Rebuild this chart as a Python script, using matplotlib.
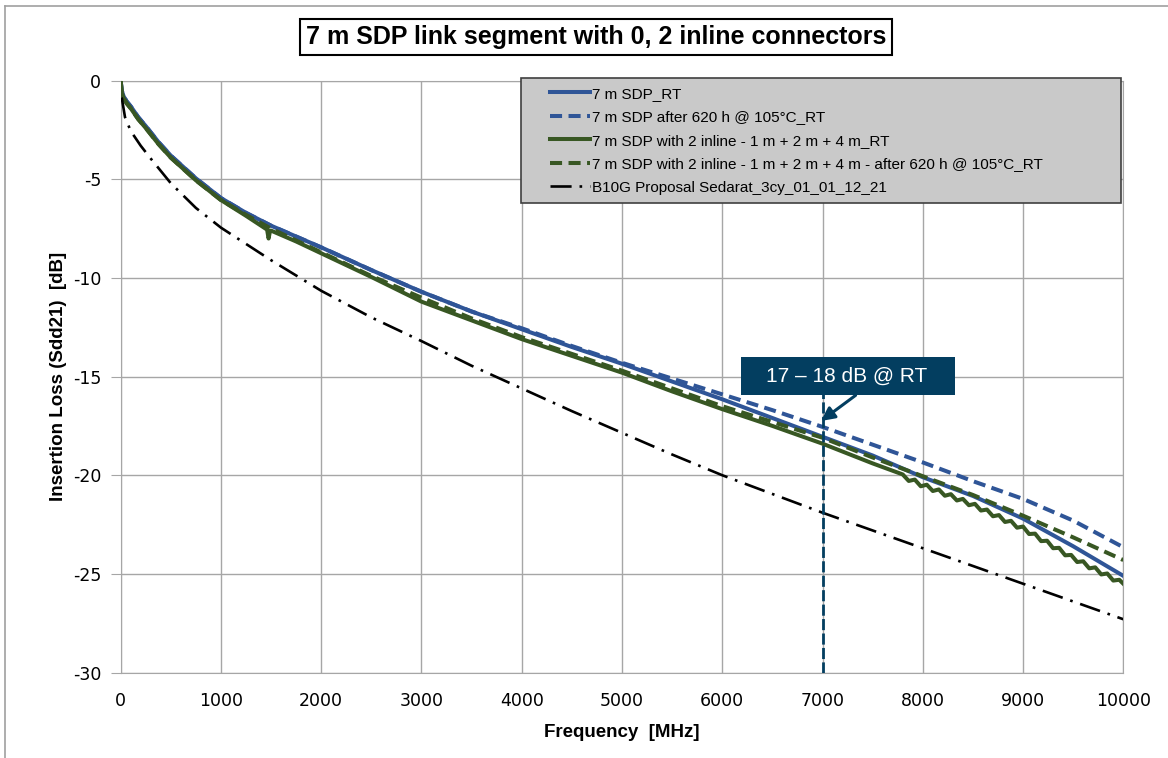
import matplotlib
matplotlib.use("Agg")
import matplotlib.pyplot as plt
from matplotlib.patches import Rectangle
from matplotlib.lines import Line2D
from matplotlib.legend_handler import HandlerLine2D

plt.rcParams["axes.unicode_minus"] = False

# --- data ---
freq = [0, 10, 30, 60, 100, 175, 250, 375, 500, 750, 1000, 1250, 1500, 1750, 2000,
        2500, 3000, 3500, 4000, 4500, 5000, 5500, 6000, 6500, 7000, 7500, 8000,
        8500, 9000, 9500, 10000]

sdp_rt = [0, -0.5, -0.8, -1.05, -1.3, -1.85, -2.3, -3.1, -3.8, -4.95, -5.95, -6.7,
          -7.35, -7.9, -8.45, -9.6, -10.7, -11.7, -12.6, -13.5, -14.35, -15.25,
          -16.15, -17.1, -18.05, -19.0, -20.1, -21.05, -22.2, -23.6, -25.1]

sdp_aged = [0, -0.5, -0.8, -1.05, -1.3, -1.85, -2.3, -3.1, -3.8, -4.95, -5.95, -6.7,
            -7.35, -7.9, -8.45, -9.6, -10.7, -11.7, -12.55, -13.45, -14.3, -15.1,
            -15.9, -16.7, -17.55, -18.45, -19.35, -20.3, -21.2, -22.3, -23.65]

inline_freq = [0, 10, 30, 60, 100, 175, 250, 375, 500, 750, 1000, 1250, 1460, 1475,
               1490, 1500, 1750, 2000, 2500, 3000, 3500, 4000, 4500, 5000, 5500,
               6000, 6500, 7000, 7500,
               7800, 7860, 7920, 7980, 8040, 8100, 8160, 8220, 8280, 8340, 8400,
               8460, 8520, 8580, 8640, 8700, 8760, 8820, 8880, 8940, 9000, 9060,
               9120, 9180, 9240, 9300, 9360, 9420, 9480, 9540, 9600, 9660, 9720,
               9780, 9840, 9900, 9960, 10000]
inline_rt = [0, -0.6, -0.9, -1.15, -1.4, -1.95, -2.4, -3.2, -3.9, -5.05, -6.05, -6.85,
             -7.55, -8.0, -7.6, -7.6, -8.15, -8.75, -9.95, -11.2, -12.15, -13.1,
             -13.95, -14.8, -15.75, -16.65, -17.5, -18.4, -19.4,
             -19.96, -20.29, -20.22, -20.56, -20.48, -20.80, -20.72, -21.04, -20.96,
             -21.28, -21.20, -21.52, -21.45, -21.79, -21.74, -22.08, -22.02, -22.37,
             -22.31, -22.66, -22.60, -22.98, -22.96, -23.34, -23.32, -23.70, -23.68,
             -24.06, -24.04, -24.40, -24.36, -24.72, -24.67, -25.03, -24.98, -25.34,
             -25.30, -25.50]

inline_aged = [0, -0.6, -0.9, -1.15, -1.4, -1.95, -2.4, -3.2, -3.9, -5.05, -6.05, -6.8,
               -7.5, -8.1, -8.7, -9.9, -11.0, -12.05, -13.0, -13.85, -14.7, -15.6,
               -16.5, -17.3, -18.1, -19.1, -20.05, -21.0, -22.05, -23.15, -24.3]

b10g_freq = [10, 43, 100, 200, 300, 500, 750, 1000, 1500, 2000, 2500, 3000, 3500,
             4000, 4500, 5000, 5500, 6000, 6500, 7000, 7500, 8000, 8500, 9000,
             9500, 10000]
b10g = [-0.85, -1.85, -2.55, -3.3, -3.95, -5.2, -6.45, -7.45, -9.1, -10.65, -12.0,
        -13.2, -14.45, -15.6, -16.75, -17.85, -18.95, -20.0, -20.95, -21.9, -22.8,
        -23.7, -24.6, -25.5, -26.4, -27.3]

labels = ["7 m SDP_RT",
          "7 m SDP after 620 h @ 105°C_RT",
          "7 m SDP with 2 inline - 1 m + 2 m + 4 m_RT",
          "7 m SDP with 2 inline - 1 m + 2 m + 4 m - after 620 h @ 105°C_RT",
          "B10G Proposal Sedarat_3cy_01_01_12_21"]

title = "7 m SDP link segment with 0, 2 inline connectors"
callout = "17 – 18 dB @ RT"
marker_freq = 7000

blue = "#2F5597"
green = "#385723"
navy = "#033E60"
grid_c = "#A6A6A6"

fig = plt.figure(figsize=(11.68, 7.58), dpi=100)
ax = fig.add_axes([120.7 / 1168, 1 - 672.5 / 758, 1002.6 / 1168, 591.8 / 758])

ax.plot(freq, sdp_rt, color=blue, lw=2.9, label=labels[0], zorder=3)
ax.plot(freq, sdp_aged, color=blue, lw=2.9, dashes=(3, 1.6), label=labels[1], zorder=4)
ax.plot(inline_freq, inline_rt, color=green, lw=2.9, label=labels[2], zorder=5)
ax.plot(freq, inline_aged, color=green, lw=2.9, dashes=(3, 1.6), label=labels[3], zorder=6)
ax.plot(b10g_freq, b10g, color="black", lw=1.9, dashes=(8, 3, 1, 3), label=labels[4], zorder=7)

ax.set_xlim(0, 10000)
ax.set_ylim(-30, 0)
ax.set_xticks(range(0, 10001, 1000))
ax.set_yticks(range(-30, 1, 5))
ax.grid(True, color=grid_c, lw=1)
for s in ax.spines.values():
    s.set_color(grid_c)
ax.tick_params(axis="x", length=0, pad=14, labelsize=12.5)
ax.tick_params(axis="y", length=7, color=grid_c, pad=7, labelsize=12.5)

ax.set_xlabel("Frequency  [MHz]", fontsize=13.5, fontweight="bold",
              family="Liberation Sans", labelpad=10)
ax.set_ylabel("Insertion Loss (Sdd21)  [dB]", fontsize=13.5, fontweight="bold",
              family="Liberation Sans", labelpad=4)

leg = ax.legend(loc="upper left", bbox_to_anchor=(0.399, 1.004, 0.599, 0.0),
                mode="expand", borderaxespad=0, fancybox=False, framealpha=1,
                facecolor="#C9C9C9", edgecolor="#3F3F3F", handlelength=4.0,
                handletextpad=0.1, labelspacing=0.62, borderpad=0.55,
                handler_map={Line2D: HandlerLine2D(xpad=1.35)},
                prop={"family": "Liberation Sans", "size": 11})
leg.get_frame().set_linewidth(1.2)
leg.set_zorder(10)

# call-out at 7000 MHz
ax.plot([marker_freq, marker_freq], [-30, -15.9], color=navy, lw=2,
        dashes=(4, 1.2), zorder=8)
ax.add_patch(Rectangle((6190, -15.95), 2130, 1.92, facecolor=navy,
                       edgecolor="none", zorder=9))
ax.text(7245, -15.0, callout, color="white", fontsize=15, ha="center",
        va="center", family="Liberation Sans", zorder=10)
ax.annotate("", xy=(6985, -17.25), xytext=(7330, -15.95),
            arrowprops=dict(arrowstyle="-|>", color=navy, lw=2.2,
                            mutation_scale=20, shrinkA=0, shrinkB=0),
            zorder=9)

fig.text(596 / 1168, 1 - 37 / 758, title, ha="center", va="center",
         fontsize=18, fontweight="bold", family="Liberation Sans",
         bbox=dict(boxstyle="square,pad=0.25", fc="white", ec="black", lw=1.5))

# chart area border (top and left visible)
fig.add_artist(Line2D([5 / 1168, 5 / 1168], [0, 1 - 6 / 758], color="#A0A0A0", lw=1.2))
fig.add_artist(Line2D([5 / 1168, 1], [1 - 6 / 758, 1 - 6 / 758], color="#A0A0A0", lw=1.2))

fig.savefig("out.png", dpi=100)
